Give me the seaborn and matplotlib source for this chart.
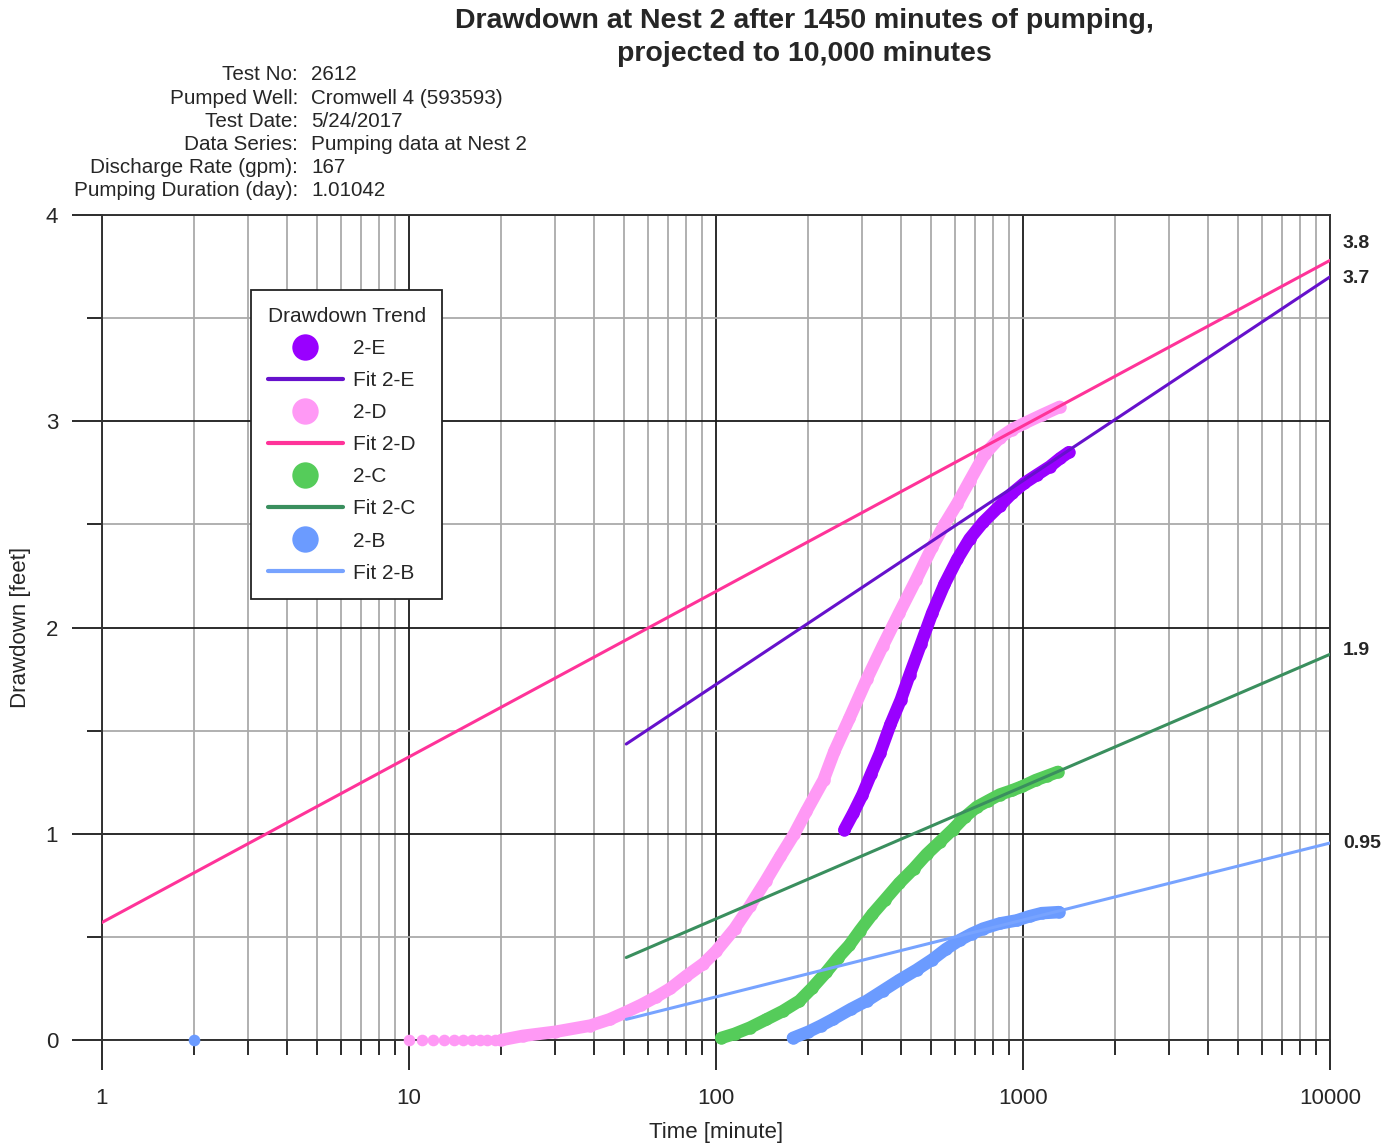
import numpy as np
import pandas as pd
import matplotlib
matplotlib.use("Agg")
import matplotlib.pyplot as plt
import seaborn as sns
from matplotlib.lines import Line2D
from matplotlib.ticker import LogLocator, MultipleLocator, NullFormatter, FixedLocator, FixedFormatter

# ---- data ----
# 2-D (pink) : separate early readings, then the dense band
d_early_t = [10, 11, 12, 13, 14, 15, 16, 17, 18, 19]
d_early_s = [0, 0, 0, 0, 0, 0, 0, 0, 0, 0]
d_t = [20, 23.5, 30, 39, 45, 50, 57, 64, 71, 80, 91, 100, 115, 129, 145, 162, 180, 197, 224,
       243, 272, 310, 349, 395, 448, 506, 555, 610, 670, 750, 840, 920, 1010, 1150, 1318]
d_s = [0.0, 0.02, 0.04, 0.07, 0.10, 0.13, 0.17, 0.21, 0.25, 0.31, 0.37, 0.43, 0.54, 0.65, 0.77,
       0.89, 1.00, 1.11, 1.26, 1.40, 1.56, 1.75, 1.91, 2.07, 2.23, 2.39, 2.50, 2.60, 2.71, 2.84,
       2.92, 2.96, 2.99, 3.03, 3.07]

# 2-E (purple)
e_t = [262, 280, 300, 320, 342, 370, 400, 427, 465, 506, 555, 610, 670, 741, 840, 920, 1010,
       1110, 1222, 1320, 1410]
e_s = [1.02, 1.10, 1.19, 1.29, 1.39, 1.53, 1.65, 1.77, 1.92, 2.07, 2.21, 2.33, 2.43, 2.51, 2.59,
       2.65, 2.70, 2.74, 2.78, 2.82, 2.85]

# 2-C (green)
c_t = [104, 115, 129, 146, 165, 187, 205, 229, 250, 272, 294, 323, 355, 395, 440, 485, 535, 590,
       645, 707, 770, 840, 920, 996, 1100, 1196, 1300]
c_s = [0.01, 0.03, 0.06, 0.10, 0.14, 0.19, 0.25, 0.33, 0.40, 0.46, 0.53, 0.61, 0.68, 0.76, 0.83,
       0.90, 0.96, 1.02, 1.08, 1.13, 1.16, 1.19, 1.21, 1.23, 1.26, 1.28, 1.30]

# 2-B (blue)
b_early_t = [2]
b_early_s = [0]
b_t = [178, 200, 220, 240, 275, 310, 350, 395, 450, 506, 560, 623, 680, 741, 840, 955, 1050,
       1150, 1310]
b_s = [0.01, 0.04, 0.07, 0.10, 0.15, 0.19, 0.24, 0.29, 0.34, 0.39, 0.44, 0.485, 0.515, 0.54,
       0.565, 0.58, 0.60, 0.615, 0.62]

# straight-line fits (end points)
fit_d_t, fit_d_s = [1, 10000], [0.57, 3.78]
fit_e_t, fit_e_s = [51, 10000], [1.435, 3.70]
fit_c_t, fit_c_s = [51, 10000], [0.40, 1.87]
fit_b_t, fit_b_s = [51, 10000], [0.10, 0.955]

end_labels = ["3.8", "3.7", "1.9", "0.95"]
end_label_y = [3.86, 3.69, 1.89, 0.955]

info_keys = ["Test No:", "Pumped Well:", "Test Date:", "Data Series:",
             "Discharge Rate (gpm):", "Pumping Duration (day):"]
info_vals = ["2612", "Cromwell 4 (593593)", "5/24/2017", "Pumping data at Nest 2",
             "167", "1.01042"]

x_ticks = [1, 10, 100, 1000, 10000]
x_ticklabels = ["1", "10", "100", "1000", "10000"]
y_ticks = [0, 1, 2, 3, 4]

# colours
col_e, col_fit_e = "#9900FF", "#6611CC"
col_d, col_fit_d = "#FF99F5", "#FF3399"
col_c, col_fit_c = "#55CC5A", "#3A8F5E"
col_b, col_fit_b = "#6B9BFF", "#77A3FF"

sns.set_style("white")
plt.rcParams["font.family"] = ["Liberation Sans", "DejaVu Sans"]

W, H = 1392, 1144
fig = plt.figure(figsize=(W / 100, H / 100), dpi=100)
ax = fig.add_axes([102 / W, 1 - 1040 / H, 1228 / W, 825 / H])
ax.set_xscale("log")

band_kw = dict(lw=9, marker="o", markersize=9, markeredgewidth=0, estimator=None,
               sort=False, legend=False, ax=ax, solid_capstyle="round",
               solid_joinstyle="round", clip_on=False)
dot_kw = dict(s=70, linewidth=0, zorder=3, ax=ax, clip_on=False)

sns.lineplot(x=d_t, y=d_s, color=col_d, zorder=3, **band_kw)
sns.scatterplot(x=d_early_t, y=d_early_s, color=col_d, **dot_kw)
sns.lineplot(x=e_t, y=e_s, color=col_e, zorder=3, **band_kw)
sns.lineplot(x=c_t, y=c_s, color=col_c, zorder=3, **band_kw)
sns.lineplot(x=b_t, y=b_s, color=col_b, zorder=3, **band_kw)
sns.scatterplot(x=b_early_t, y=b_early_s, color=col_b, **dot_kw)

fit_kw = dict(lw=2.2, estimator=None, sort=False, legend=False, ax=ax)
sns.lineplot(x=fit_e_t, y=fit_e_s, color=col_fit_e, zorder=4, **fit_kw)
sns.lineplot(x=fit_d_t, y=fit_d_s, color=col_fit_d, zorder=4, **fit_kw)
sns.lineplot(x=fit_c_t, y=fit_c_s, color=col_fit_c, zorder=4, **fit_kw)
sns.lineplot(x=fit_b_t, y=fit_b_s, color=col_fit_b, zorder=4, **fit_kw)

ax.set_xlim(1, 10000)
ax.set_ylim(0, 4)

ax.xaxis.set_major_locator(FixedLocator(x_ticks))
ax.xaxis.set_major_formatter(FixedFormatter(x_ticklabels))
ax.xaxis.set_minor_locator(LogLocator(base=10, subs=np.arange(2, 10)))
ax.xaxis.set_minor_formatter(NullFormatter())
ax.set_yticks(y_ticks)
ax.set_yticklabels([str(v) for v in y_ticks])
ax.yaxis.set_minor_locator(MultipleLocator(0.5))

ax.set_axisbelow(True)
ax.grid(which="major", color="#1a1a1a", lw=1.3)
ax.grid(which="minor", color="#aaaaaa", lw=1.3)
for sp in ax.spines.values():
    sp.set_color("#333333")
    sp.set_linewidth(1.4)

ax.tick_params(which="major", length=21.6, width=1.3, color="#1a1a1a", labelsize=16)
ax.tick_params(which="minor", length=10.8, width=1.3, color="#1a1a1a")
ax.tick_params(axis="x", which="major", pad=13)
ax.tick_params(axis="y", which="major", pad=10)
ax.tick_params(bottom=True, left=True, top=False, right=False, which="both")

ax.set_xlabel("Time [minute]", fontsize=16, labelpad=9)
ax.set_ylabel("Drawdown [feet]", fontsize=16)
ax.yaxis.set_label_coords(-0.058, 0.5)

for lab, yv in zip(end_labels, end_label_y):
    ax.text(1 + 13 / 1228, yv, lab, transform=ax.get_yaxis_transform(), ha="left",
            va="center", fontsize=14, fontweight="bold")

# title and test info
fig.text(0.578, 1 - 21 / H, "Drawdown at Nest 2 after 1450 minutes of pumping,",
         ha="center", va="center", fontsize=20.5, fontweight="bold")
fig.text(0.578, 1 - 54 / H, "projected to 10,000 minutes",
         ha="center", va="center", fontsize=20.5, fontweight="bold")
for i, (k, v) in enumerate(zip(info_keys, info_vals)):
    yy = 1 - (75 + i * 23.2) / H
    fig.text(298 / W, yy, k, ha="right", va="center", fontsize=14.9)
    fig.text(311 / W, yy, v, ha="left", va="center", fontsize=14.9)

# legend
handles = [
    Line2D([], [], ls="", marker="o", markersize=19, color=col_e, markeredgewidth=0),
    Line2D([], [], color=col_fit_e, lw=3),
    Line2D([], [], ls="", marker="o", markersize=19, color=col_d, markeredgewidth=0),
    Line2D([], [], color=col_fit_d, lw=3),
    Line2D([], [], ls="", marker="o", markersize=19, color=col_c, markeredgewidth=0),
    Line2D([], [], color=col_fit_c, lw=3),
    Line2D([], [], ls="", marker="o", markersize=19, color=col_b, markeredgewidth=0),
    Line2D([], [], color=col_fit_b, lw=3),
]
labels = ["2-E", "Fit 2-E", "2-D", "Fit 2-D", "2-C", "Fit 2-C", "2-B", "Fit 2-B"]
leg = fig.legend(handles, labels, title="Drawdown Trend", loc="upper left",
                 bbox_to_anchor=(251 / W, 1 - 290 / H), frameon=True, fancybox=False,
                 edgecolor="#222222", framealpha=1, fontsize=15, title_fontsize=15,
                 handlelength=3.6, handletextpad=0.5, labelspacing=0.63, borderpad=0.8,
                 borderaxespad=0)
leg._legend_box.align = "left"
leg.get_frame().set_linewidth(1.3)

fig.savefig("out.png", dpi=100)
